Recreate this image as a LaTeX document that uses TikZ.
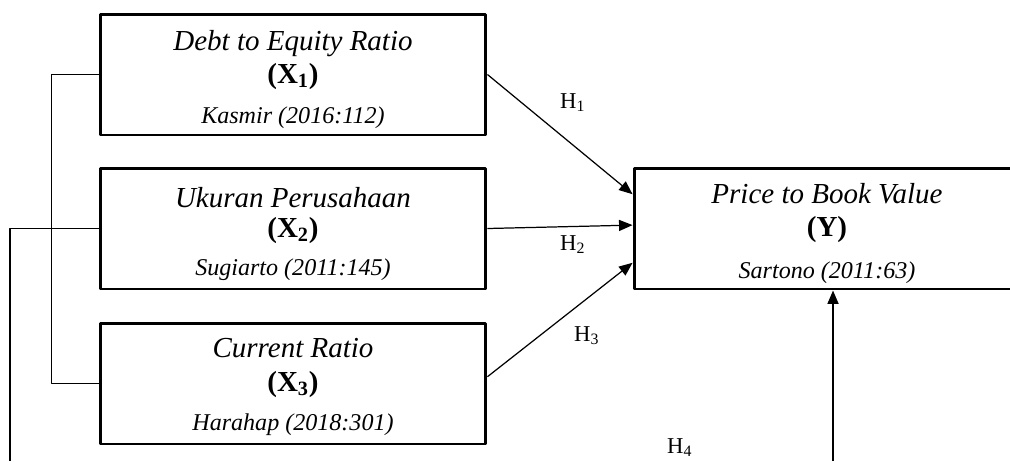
\documentclass[tikz,border=0pt]{standalone}
\usepackage{fontspec}
\setmainfont{Liberation Serif}
\usetikzlibrary{arrows.meta}
\begin{document}
\begin{tikzpicture}[x=0.02cm, y=-0.02cm, line join=round, >={Triangle[length=0.27cm,width=0.22cm]},
	kotak/.style={draw, line width=1.7pt, minimum width=7.72cm, minimum height=2.42cm, inner sep=0pt},
	judul/.style={anchor=base, font=\fontsize{16.5}{19}\selectfont\itshape},
	varlabel/.style={anchor=base, font=\fontsize{16.5}{19}\selectfont\bfseries},
	sumber/.style={anchor=base, font=\fontsize{13.7}{16}\selectfont\itshape},
	hlabel/.style={anchor=base west, font=\fontsize{12.9}{15}\selectfont},
	panah/.style={->, line width=0.7pt},
	garis/.style={line width=1pt}]
	\useasboundingbox (0,0) rectangle (1010,461);
	\path
	(10,461) coordinate (kiri)
	(833,461) coordinate (kanan)
	;
	% kotak variabel
	\node[kotak] (x1) at (293,74.5) {};
	\node[kotak] (x2) at (293,228.5) {};
	\node[kotak] (x3) at (293,383.5) {};
	\node[kotak] (y) at (827,228.5) {};
	\foreach \i/\a/\b/\c/\t/\s in {
		1/50/83/123/Debt to Equity Ratio/Kasmir (2016:112),
		2/207/237/275/Ukuran Perusahaan/Sugiarto (2011:145),
		3/357/391/430/Current Ratio/Harahap (2018:301)}
	{
		\node[judul] (x\i t) at (293,\a) {\t};
		\node[varlabel] (x\i v) at (293,\b) {(X\textsubscript{\i})};
		\node[sumber] (x\i s) at (293,\c) {\s};
	}
	\node[judul] (yt) at (827,203) {Price to Book Value};
	\node[varlabel] (yv) at (827,236) {(Y)};
	\node[sumber] (ys) at (827,278) {Sartono (2011:63)};
	% hipotesis
	\foreach \x/\y in {x1.east/y.170,x2.east/y.179,x3.2/y.190}
	\draw[panah] (\x)--(\y);
	\draw[garis] (x1.west) -- ++(-47,0) |- (x3.west);
	\draw[garis] (x2.west) -| (kiri);
	\draw[panah, line width=1pt] (kanan) -- (kanan|-y.south);
	\foreach \n/\x/\y in {1/554/108,2/554/250,3/568/341,4/661/453}
	\node[hlabel] (h\n) at (\x,\y) {H\textsubscript{\n}};
\end{tikzpicture}
\end{document}
